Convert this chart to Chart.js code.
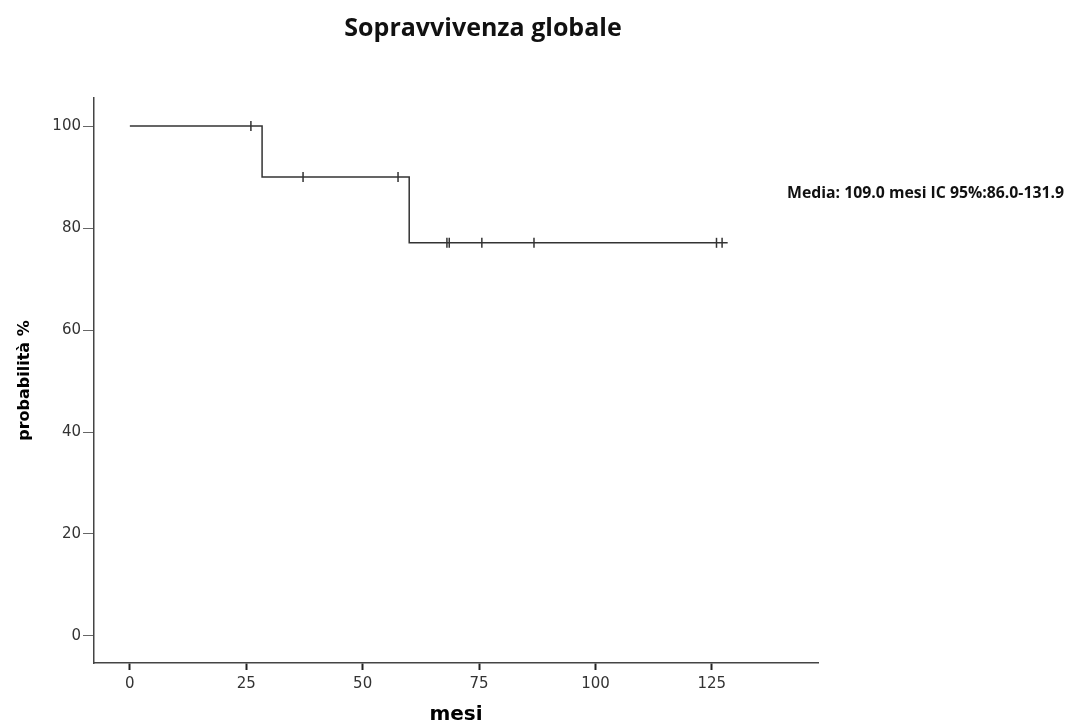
<!DOCTYPE html>
<html>
<head>
<meta charset="utf-8">
<script src="https://cdn.jsdelivr.net/npm/chart.js@4"></script>
<style>
  html, body { margin: 0; padding: 0; background: #fff; }
  #wrap { width: 1069px; height: 725px; position: relative; }
</style>
</head>
<body>
<div id="wrap"><canvas id="km"></canvas></div>
<script>
// Kaplan-Meier curve: step points (time in months, survival %)
const stepTimes = [0, 28.4, 60, 128.4];
const stepSurv = [100, 90, 77.1, 77.1];

// censored observations
const censorTimes = [26, 37.2, 57.6, 68.1, 68.6, 75.6, 86.8, 126, 127.2];
const censorSurv = [100, 90, 90, 77.1, 77.1, 77.1, 77.1, 77.1, 77.1];

const xTicks = [0, 25, 50, 75, 100, 125];
const yTicks = [0, 20, 40, 60, 80, 100];

const titleText = 'Sopravvivenza globale';
const noteText = 'Media: 109.0 mesi IC 95%:86.0-131.9';

const ink = '#333333';
const tickFont = { family: '"DejaVu Sans", sans-serif', size: 15 };

// title and mean note, drawn on top
const textPlugin = {
  id: 'texts',
  afterDraw(chart) {
    const ctx = chart.ctx;
    ctx.save();
    ctx.fillStyle = '#111';
    ctx.textBaseline = 'middle';
    ctx.textAlign = 'center';
    ctx.font = 'bold 25px "Open Sans", sans-serif';
    ctx.fillText(titleText, 483, 29);
    ctx.textAlign = 'left';
    ctx.font = 'bold 15.8px "Open Sans", sans-serif';
    ctx.fillText(noteText, 787, 193);
    ctx.restore();
  }
};

new Chart(document.getElementById('km'), {
  type: 'scatter',
  data: {
    datasets: [
      {
        data: stepTimes.map((t, i) => ({ x: t, y: stepSurv[i] })),
        showLine: true,
        stepped: 'before',
        borderColor: ink,
        borderWidth: 1.5,
        pointRadius: 0,
      },
      {
        data: censorTimes.map((t, i) => ({ x: t, y: censorSurv[i] })),
        showLine: false,
        pointStyle: 'line',
        rotation: 90,
        pointRadius: 5,
        borderColor: ink,
        borderWidth: 1.5,
      },
    ],
  },
  options: {
    responsive: true,
    maintainAspectRatio: false,
    animation: false,
    layout: { padding: { top: 98, right: 251, left: 0, bottom: 0 } },
    plugins: {
      legend: { display: false },
      tooltip: { enabled: false },
      title: { display: false },
    },
    scales: {
      x: {
        type: 'linear',
        min: -7.7,
        max: 147.8,
        afterBuildTicks: (s) => { s.ticks = xTicks.map(v => ({ value: v })); },
        afterFit: (s) => { s.height = 62; },
        grid: {
          drawOnChartArea: false,
          drawTicks: true,
          tickLength: 7,
          tickWidth: 2,
          tickColor: '#222',
        },
        border: { color: '#444', width: 1.5 },
        ticks: { padding: 5, color: '#333', font: tickFont },
        title: {
          display: true,
          text: 'mesi',
          color: '#000',
          padding: { top: 0, bottom: 0 },
          font: { family: '"DejaVu Sans", sans-serif', size: 20, weight: 'bold', lineHeight: 1.0 },
        },
      },
      y: {
        type: 'linear',
        min: -5.3,
        max: 105.5,
        afterBuildTicks: (s) => { s.ticks = yTicks.map(v => ({ value: v })); },
        afterFit: (s) => { s.width = 94; },
        grid: {
          drawOnChartArea: false,
          drawTicks: true,
          tickLength: 11,
          tickWidth: 1,
          tickColor: '#666',
        },
        border: { color: '#444', width: 1.5 },
        ticks: { padding: 2, color: '#333', font: tickFont },
        title: {
          display: true,
          text: 'probabilità %',
          color: '#000',
          padding: { top: 15, bottom: 0 },
          font: { family: '"DejaVu Sans", sans-serif', size: 16, weight: 'bold' },
        },
      },
    },
  },
  plugins: [textPlugin],
});
</script>
</body>
</html>
